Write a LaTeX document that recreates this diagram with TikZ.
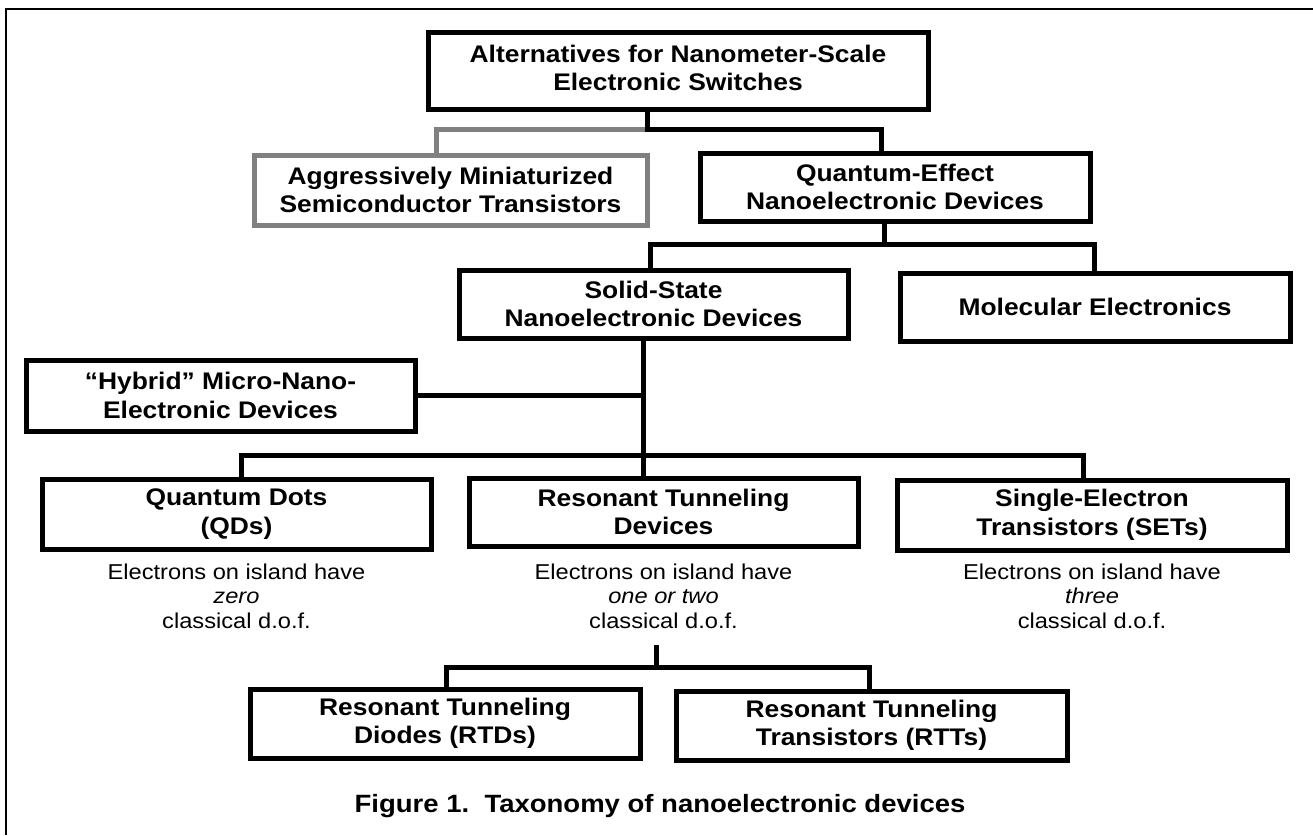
\documentclass[tikz,border=0pt]{standalone}
\usepackage{fontspec}
\setmainfont[FakeStretch=1.1]{Liberation Sans}
\definecolor{midgray}{RGB}{128,128,128}
\begin{document}
\begin{tikzpicture}[x=1pt,y=-1pt,
  box/.style={draw, line width=5pt, inner sep=0pt, align=center,
    font=\bfseries\fontsize{24}{28.5}\selectfont},
  conn/.style={line width=5pt},
  desc/.style={align=center, inner sep=0pt, font=\fontsize{21.5}{24.5}\selectfont},
  frameline/.style={line width=2pt}]
\useasboundingbox (0,0) rectangle (1313,835);
\fill[white] (0,0) rectangle (1313,835);
\draw[frameline] (6,835) -- (6,9) -- (1313,9);

% boxes
\node[box, minimum width=500pt, minimum height=77pt] (alt) at (678,71) {Alternatives for Nanometer-Scale\\Electronic Switches\rule[-6pt]{0pt}{0pt}};
\node[box, draw=midgray, minimum width=393pt, minimum height=70pt] (aggr) at (450.5,190) {Aggressively Miniaturized\\Semiconductor Transistors};
\node[box, minimum width=390pt, minimum height=68pt] (qe) at (895,187) {Quantum-Effect\\Nanoelectronic Devices};
\node[box, minimum width=389pt, minimum height=68pt] (ss) at (653.5,304) {Solid-State\\Nanoelectronic Devices};
\node[box, minimum width=390pt, minimum height=68pt] (mol) at (1095,307) {Molecular Electronics};
\node[box, minimum width=389pt, minimum height=71pt] (hyb) at (220.5,395.5) {``Hybrid'' Micro-Nano-\\Electronic Devices};
\node[box, minimum width=389pt, minimum height=70pt] (qd) at (236.5,514) {Quantum Dots\\(QDs)};
\node[box, minimum width=389pt, minimum height=68pt] (rtdev) at (663.5,512) {Resonant Tunneling\\Devices};
\node[box, minimum width=390pt, minimum height=70pt] (set) at (1092,515) {Single-Electron\\Transistors (SETs)};
\node[box, minimum width=390pt, minimum height=69pt] (rtd) at (445,723.5) {Resonant Tunneling\\Diodes (RTDs)};
\node[box, minimum width=391pt, minimum height=69pt] (rtt) at (871.5,725.5) {Resonant Tunneling\\Transistors (RTTs)};

% descriptions
\node[desc] (d1) at (236.5,596) {Electrons on island have\\\textit{zero}\\classical d.o.f.};
\node[desc] (d2) at (663.5,596) {Electrons on island have\\\textit{one or two}\\classical d.o.f.};
\node[desc] (d3) at (1092,596) {Electrons on island have\\\textit{three}\\classical d.o.f.};

% caption
\node[font=\bfseries\fontsize{25}{30}\selectfont, inner sep=0pt] (cap) at (660,806) {Figure 1.\ \ Taxonomy of nanoelectronic devices};

% connectors: level 1
\coordinate (a1) at (647,129);
\coordinate (a2) at (436,129);
\coordinate (a3) at (881,129);
\draw[conn, draw=midgray] (a1) -- (a2) -- (aggr.north -| a2);
\draw[conn] (alt.south -| a1) -- (a1) -- (a3) -- (qe.north -| a3);

% level 2
\coordinate (b1) at (884,244);
\coordinate (b2) at (650,244);
\coordinate (b3) at (1094,244);
\draw[conn] (qe.south -| b1) -- (b1);
\draw[conn] (ss.north -| b2) -- (b2) -- (b3) -- (mol.north -| b3);

% level 3
\coordinate (c1) at (643,455);
\coordinate (c2) at (241,455);
\coordinate (c3) at (1083,455);
\draw[conn] (ss.south -| c1) -- (rtdev.north -| c1);
\draw[conn] (hyb.east) -- (hyb.east -| c1);
\draw[conn] (qd.north -| c2) -- (c2) -- (c3) -- (set.north -| c3);

% level 4
\coordinate (e0) at (656,645);
\coordinate (e1) at (656,667);
\coordinate (e2) at (446,667);
\coordinate (e3) at (869,667);
\draw[conn] (e0) -- (e1);
\draw[conn] (rtd.north -| e2) -- (e2) -- (e3) -- (rtt.north -| e3);
\end{tikzpicture}
\end{document}
